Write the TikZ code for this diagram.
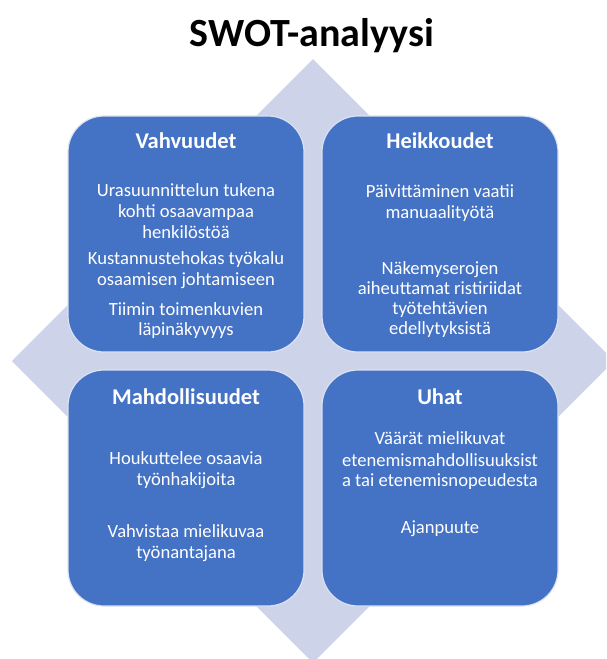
\documentclass[tikz,border=0pt]{standalone}
\usepackage{fontspec}
\setmainfont{Carlito}
\usepackage{tikz}

\definecolor{swotblue}{HTML}{4472C4}
\definecolor{swotdiamond}{HTML}{CDD4E9}
\definecolor{swotedge}{HTML}{DCE2F1}

\begin{document}
\begin{tikzpicture}[x=1pt, y=-1pt,
  quadrant/.style={draw=swotedge, line width=1.2pt, fill=swotblue,
    rounded corners=36pt, minimum width=236pt, minimum height=236pt, inner sep=0pt},
  heading/.style={anchor=base, inner sep=0pt, text=white,
    font=\fontsize{22.5}{27}\selectfont\bfseries},
  item/.style={anchor=base, inner sep=0pt, text=white,
    font=\fontsize{18.6}{22}\selectfont}]

  % Page: 606 x 659, y grows downward
  \useasboundingbox (0,0) rectangle (606,659);
  \clip (0,0) rectangle (606,659);

  % --- Background diamond ---
  \fill[swotdiamond] (313,59) -- (614,361) -- (313,663) -- (12,361) -- cycle;

  % --- Title ---
  \node[anchor=base, inner sep=0pt, font=\fontsize{40}{47}\selectfont\bfseries]
    (title) at (312,46) {SWOT-analyysi};

  % --- Four quadrants ---
  \node[quadrant] (vahv) at (186,234) {};
  \node[quadrant] (heik) at (440,234) {};
  \node[quadrant] (mahd) at (186,488) {};
  \node[quadrant] (uhat) at (440,488) {};

  % --- Vahvuudet (upper left) ---
  \node[heading] (vahv-h) at (186,148) {Vahvuudet};
  \node[item] (vahv-1) at (186,196) {Urasuunnittelun tukena};
  \node[item] (vahv-2) at (186,217) {kohti osaavampaa};
  \node[item] (vahv-3) at (186,238) {henkilöstöä};
  \node[item] (vahv-4) at (186,264) {Kustannustehokas työkalu};
  \node[item] (vahv-5) at (186,285) {osaamisen johtamiseen};
  \node[item] (vahv-6) at (186,315) {Tiimin toimenkuvien};
  \node[item] (vahv-7) at (186,335) {läpinäkyvyys};

  % --- Heikkoudet (upper right) ---
  \node[heading] (heik-h) at (440,148) {Heikkoudet};
  \node[item] (heik-1) at (440,197) {Päivittäminen vaatii};
  \node[item] (heik-2) at (440,218) {manuaalityötä};
  \node[item] (heik-3) at (440,274) {Näkemyserojen};
  \node[item] (heik-4) at (440,294) {aiheuttamat ristiriidat};
  \node[item] (heik-5) at (440,314) {työtehtävien};
  \node[item] (heik-6) at (440,334) {edellytyksistä};

  % --- Mahdollisuudet (lower left) ---
  \node[heading] (mahd-h) at (186,404) {Mahdollisuudet};
  \node[item] (mahd-1) at (186,464) {Houkuttelee osaavia};
  \node[item] (mahd-2) at (186,485) {työnhakijoita};
  \node[item] (mahd-3) at (186,537) {Vahvistaa mielikuvaa};
  \node[item] (mahd-4) at (186,558) {työnantajana};

  % --- Uhat (lower right) ---
  \node[heading] (uhat-h) at (440,404) {Uhat};
  \node[item] (uhat-1) at (440,444) {Väärät mielikuvat};
  \node[item] (uhat-2) at (440,466) {etenemismahdollisuuksist};
  \node[item] (uhat-3) at (440,486) {a tai etenemisnopeudesta};
  \node[item] (uhat-4) at (440,533) {Ajanpuute};

\end{tikzpicture}
\end{document}
